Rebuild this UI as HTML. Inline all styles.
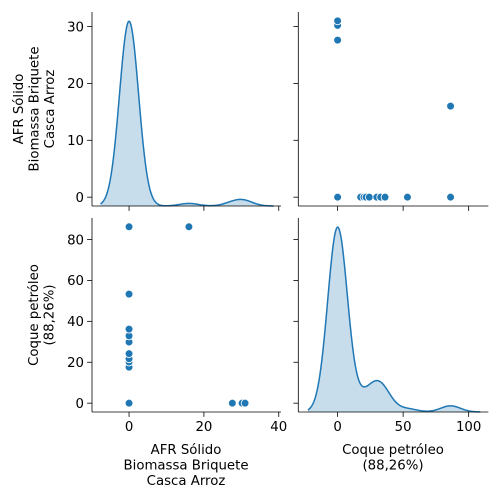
<!DOCTYPE html>
<html><head><meta charset="utf-8">
<style>
html,body{margin:0;padding:0;background:#fff;}
svg{display:block;font-family:"DejaVu Sans","Liberation Sans",sans-serif;}
</style></head>
<body>
<svg id="chart" width="500" height="500" viewBox="0 0 500 500"></svg>
<script>
// data rows: [AFR, Coque]
const zeroRowCount = 57;
const afrValues = [0,0,0,0,0,0,0,0,0,0,0,0,0,0,0,16,27.6,30.2,31];
const coqueValues = [17.6,20.1,21.7,24.2,29.9,29.9,29.9,29.9,32.9,32.9,32.9,36.2,36.2,53.3,86.2,86.2,0,0,0];
const afrTicks = [0,20,40];
const afrYTicks = [0,10,20,30];
const coqueTicks = [0,50,100];
const coqueYTicks = [0,20,40,60,80];

const NS="http://www.w3.org/2000/svg";
const svg=document.getElementById('chart');
function mk(tag,attrs,parent){const e=document.createElementNS(NS,tag);for(const k in attrs)e.setAttribute(k,attrs[k]);(parent||svg).appendChild(e);return e;}

const afr=[],coque=[];
for(let i=0;i<zeroRowCount;i++){afr.push(0);coque.push(0);}
for(let i=0;i<afrValues.length;i++){afr.push(afrValues[i]);coque.push(coqueValues[i]);}

const colX=[[92,281],[298.3,488.3]];
const rowY=[[12,206],[218,412]];
const xLim=[[-9.9,40.6],[-30,115]];
const yLim=[[-1.55,32.55],[-4.31,90.5]];
function sx(c,v){const [a,b]=xLim[c];return colX[c][0]+(v-a)/(b-a)*(colX[c][1]-colX[c][0]);}
function sy(r,v){const [a,b]=yLim[r];return rowY[r][1]-(v-a)/(b-a)*(rowY[r][1]-rowY[r][0]);}

function kde(data){
  const n=data.length;const m=data.reduce((s,v)=>s+v,0)/n;
  const sd=Math.sqrt(data.reduce((s,v)=>s+(v-m)*(v-m),0)/(n-1));
  const bw=sd*Math.pow(n,-0.2);
  const lo=Math.min(...data)-3*bw,hi=Math.max(...data)+3*bw;
  const pts=[];
  for(let i=0;i<=200;i++){const x=lo+(hi-lo)*i/200;let d=0;for(const v of data){const z=(x-v)/bw;d+=Math.exp(-0.5*z*z);}pts.push([x,d/(n*bw*Math.sqrt(2*Math.PI))]);}
  return pts;
}

const vars=[afr,coque];
for(let r=0;r<2;r++)for(let c=0;c<2;c++){
  const g=mk('g',{});
  
  
  if(r===c){
    const pts=kde(vars[c]);const mx=Math.max(...pts.map(p=>p[1]))*1.05;
    const yb=rowY[r][1],H=rowY[r][1]-rowY[r][0];
    let d='';pts.forEach((p,i)=>{d+=(i?'L':'M')+sx(c,p[0]).toFixed(2)+','+(yb-p[1]/mx*H).toFixed(2);});
    const f=mk('path',{d:d+'L'+sx(c,pts[pts.length-1][0])+','+yb+'L'+sx(c,pts[0][0])+','+yb+'Z',fill:'#1f77b4','fill-opacity':0.25,stroke:'none'},g);
    
    
    const l=mk('path',{d:d,fill:'none',stroke:'#1f77b4','stroke-width':1.5},g);
    
    
  } else {
    const xs=vars[c],ys=vars[r];
    for(let i=0;i<xs.length;i++){
      const p=mk('circle',{cx:sx(c,xs[i]),cy:sy(r,ys[i]),r:3.9,fill:'#1f77b4',stroke:'#fff','stroke-width':0.8},g);
      
      
    }
  }
  mk('line',{x1:colX[c][0],y1:rowY[r][0],x2:colX[c][0],y2:rowY[r][1],stroke:'#000','stroke-width':0.8},g);
  mk('line',{x1:colX[c][0],y1:rowY[r][1],x2:colX[c][1],y2:rowY[r][1],stroke:'#000','stroke-width':0.8},g);
  const xt=c===0?afrTicks:coqueTicks;
  xt.forEach(t=>{const x=sx(c,t);mk('line',{x1:x,y1:rowY[r][1],x2:x,y2:rowY[r][1]+4.9,stroke:'#000','stroke-width':0.8},g);
    if(r===1){const tx=mk('text',{x:x,y:rowY[r][1]+19,'text-anchor':'middle','font-size':13.3},g);tx.textContent=t;
      
      }});
  const yt=r===0?afrYTicks:coqueYTicks;
  yt.forEach(t=>{const y=sy(r,t);mk('line',{x1:colX[c][0]-4.9,y1:y,x2:colX[c][0],y2:y,stroke:'#000','stroke-width':0.8},g);
    if(c===0){const tx=mk('text',{x:colX[c][0]-8,y:y+4.8,'text-anchor':'end','font-size':13.3},g);tx.textContent=t;
      
      }});
}
function label(lines,x,y,rot,name){
  const t=mk('text',{'font-size':13.3,'text-anchor':'middle',transform:rot?('translate('+x+','+y+') rotate(-90)'):('translate('+x+','+y+')')});
  
  
  lines.forEach((s,i)=>{const ts=mk('tspan',{x:0,dy:i?15.5:0},t);ts.textContent=s;});
}
label(['AFR Sólido','Biomassa Briquete','Casca Arroz'],23,109,true,'y-axis-title-afr');
label(['Coque petróleo','(88,26%)'],38,315,true,'y-axis-title-coque');
label(['AFR Sólido','Biomassa Briquete','Casca Arroz'],186,454,false,'x-axis-title-afr');
label(['Coque petróleo','(88,26%)'],393,454,false,'x-axis-title-coque');
</script>
</body></html>
